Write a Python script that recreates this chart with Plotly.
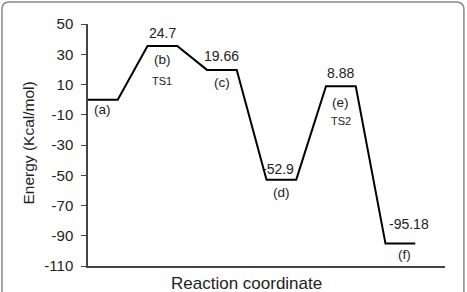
import plotly.graph_objects as go

# Data
states = ["(a)", "(b)", "(c)", "(d)", "(e)", "(f)"]
levels = [0, 35.5, 19.66, -52.9, 8.88, -95.18]          # drawn plateau heights
value_labels = ["", "24.7", "19.66", "-52.9", "8.88", "-95.18"]
ts_labels = ["", "TS1", "", "", "TS2", ""]
y_ticks = [-110, -90, -70, -50, -30, -10, 10, 30, 50]
y_tick_text = ["-110", "-90", "-70", "-50", "-30", "-10", "10", "30", "50"]

# build plateau path: each state occupies 1 unit, transitions 1 unit
xs, ys = [], []
for i, v in enumerate(levels):
    xs += [2 * i, 2 * i + 1]
    ys += [v, v]

fig = go.Figure()
fig.add_trace(go.Scatter(x=xs, y=ys, mode="lines",
                         line=dict(color="black", width=2), hoverinfo="skip",
                         showlegend=False))

font = "Liberation Sans, Arial, sans-serif"
ann = []
above = [0, 13, 14, 11, 13, 20]
above_dx = [0, 0, 0, -3, 0, 9]
below = [10, 14, 13, 13, 16, 11]
below_dx = [0, 0, 0, 0, 0, 4]
for i, v in enumerate(levels):
    cx = 2 * i + 0.5
    if value_labels[i]:
        ann.append(dict(x=cx, y=v, text=value_labels[i], showarrow=False,
                        yshift=above[i], xshift=above_dx[i],
                        font=dict(size=14, color="#222", family=font)))
    ann.append(dict(x=cx, y=v, text=states[i], showarrow=False,
                    yshift=-below[i], xshift=below_dx[i],
                    font=dict(size=13.5, color="#222", family=font)))
    if ts_labels[i]:
        ann.append(dict(x=cx, y=v, text=ts_labels[i], showarrow=False,
                        yshift=-35, font=dict(size=11, color="#222", family=font)))

# axis titles as annotations (pixel-placed)
W, H, L, R, T, B = 467, 292, 88, 22, 24, 26
pw, ph = W - L - R, H - T - B
ann.append(dict(xref="paper", yref="paper", x=(246.5 - L) / pw, y=(H - B - 283) / ph,
                xanchor="center", yanchor="middle",
                text="Reaction coordinate", showarrow=False,
                font=dict(size=17, color="#222", family=font)))
ann.append(dict(xref="paper", yref="paper", x=(27.5 - L) / pw, y=(H - B - 143) / ph,
                xanchor="center", yanchor="middle",
                text="Energy (Kcal/mol)", showarrow=False, textangle=-90,
                font=dict(size=15.5, color="#222", family=font)))

fig.update_layout(
    width=W, height=H,
    margin=dict(l=L, r=R, t=T, b=B),
    paper_bgcolor="white", plot_bgcolor="white",
    annotations=ann,
    font=dict(family=font, color="#222"),
    xaxis=dict(range=[0, 12], showticklabels=False, ticks="", showgrid=False,
               zeroline=False, showline=True, linecolor="#444", linewidth=1.5),
    yaxis=dict(range=[-110, 50], tickvals=y_ticks, ticktext=y_tick_text,
               ticks="outside", ticklen=5, ticklabelstandoff=5,
               tickcolor="#444", showgrid=False, zeroline=False, showline=True,
               linecolor="#444", linewidth=1.5, tickfont=dict(size=15, color="#222")),
    shapes=[dict(type="path", xref="paper", yref="paper",
                 path="M -0.241,-0.2 L -0.241,1.06 Q -0.241,1.091 -0.22,1.091 "
                      "L 1.031,1.091 Q 1.053,1.091 1.053,1.06 L 1.053,-0.2",
                 line=dict(color="#888", width=1.5))],
)

fig.write_html("out.html")
